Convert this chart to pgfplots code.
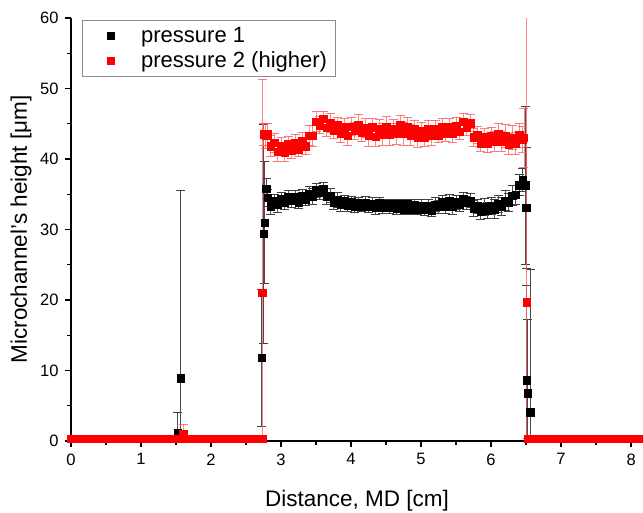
\documentclass[border=0pt]{standalone}
\usepackage{fontspec}
\setmainfont{Liberation Sans}
\usepackage{pgfplots}
\usepackage{pgfplotstable}
\pgfplotsset{compat=1.18}

% pressure 1: x [cm], height [um], error
\pgfplotstableread{
x y e
0.00 0.3 0
0.10 0.3 0
0.20 0.3 0
0.30 0.3 0
0.40 0.3 0
0.50 0.3 0
0.60 0.3 0
0.70 0.3 0
0.80 0.3 0
0.90 0.3 0
1.00 0.3 0
1.10 0.3 0
1.20 0.3 0
1.30 0.3 0
1.40 0.3 0
1.52 1.2 2.8
1.57 8.9 26.6
1.70 0.3 0
1.80 0.3 0
1.90 0.3 0
2.00 0.3 0
2.10 0.3 0
2.20 0.3 0
2.30 0.3 0
2.40 0.3 0
2.50 0.3 0
2.60 0.3 0
2.70 0.3 0
2.72 11.8 9.7
2.75 29.4 15.5
2.77 31.0 8.6
2.79 35.8 1.4
2.81 34.5 1.2
2.85 33.3 1.1
2.90 34.0 1.0
2.95 33.5 1.1
3.00 34.3 1.0
3.05 33.8 0.9
3.10 34.6 1.0
3.15 34.1 0.9
3.20 34.6 1.0
3.25 33.9 0.9
3.30 34.7 1.0
3.35 34.3 0.9
3.40 35.1 1.0
3.45 34.7 1.1
3.50 35.6 1.0
3.55 35.2 0.9
3.60 35.7 1.0
3.65 34.7 1.1
3.70 34.8 1.0
3.75 33.8 0.9
3.80 34.2 1.0
3.85 33.5 0.9
3.90 34.1 0.8
3.95 33.4 0.9
4.00 33.9 0.8
4.05 33.3 0.9
4.10 33.8 0.8
4.15 33.3 0.8
4.20 33.8 0.9
4.25 33.2 0.8
4.30 33.7 0.8
4.35 33.1 0.9
4.40 33.8 0.8
4.45 33.1 0.8
4.50 33.6 0.7
4.55 33.1 0.8
4.60 33.6 0.7
4.65 33.0 0.8
4.70 33.6 0.7
4.75 32.9 0.8
4.80 33.6 0.7
4.85 32.9 0.8
4.90 33.5 0.7
4.95 32.9 0.8
5.00 33.4 0.8
5.05 32.9 0.9
5.10 33.4 0.8
5.15 32.7 0.9
5.20 33.5 1.0
5.25 33.2 0.9
5.30 33.9 1.0
5.35 33.2 0.9
5.40 34.0 1.0
5.45 33.3 1.1
5.50 33.9 1.0
5.55 33.5 0.9
5.60 34.3 1.0
5.65 33.8 0.9
5.70 34.1 1.0
5.75 33.0 1.1
5.80 33.3 1.0
5.85 32.6 1.1
5.90 33.2 1.2
5.95 32.7 1.1
6.00 33.4 1.2
6.05 32.9 1.3
6.10 33.6 1.2
6.15 33.3 1.3
6.20 34.1 1.4
6.25 33.8 1.3
6.30 34.8 1.4
6.35 34.9 1.3
6.40 36.3 1.5
6.45 37.0 1.6
6.49 36.3 11.2
6.50 33.1 8.6
6.51 8.6 13.5
6.52 6.8 10.4
6.56 4.1 20.3
6.60 0.3 0
6.70 0.3 0
6.80 0.3 0
6.90 0.3 0
7.00 0.3 0
7.10 0.3 0
7.20 0.3 0
7.30 0.3 0
7.40 0.3 0
7.50 0.3 0
7.60 0.3 0
7.70 0.3 0
7.80 0.3 0
7.90 0.3 0
8.00 0.3 0
8.10 0.3 0
}\pone

% pressure 2 (higher)
\pgfplotstableread{
x y e
0.00 0.3 0
0.05 0.3 0
0.10 0.3 0
0.15 0.3 0
0.20 0.3 0
0.25 0.3 0
0.30 0.3 0
0.35 0.3 0
0.40 0.3 0
0.45 0.3 0
0.50 0.3 0
0.55 0.3 0
0.60 0.3 0
0.65 0.3 0
0.70 0.3 0
0.75 0.3 0
0.80 0.3 0
0.85 0.3 0
0.90 0.3 0
0.95 0.3 0
1.00 0.3 0
1.05 0.3 0
1.10 0.3 0
1.15 0.3 0
1.20 0.3 0
1.25 0.3 0
1.30 0.3 0
1.35 0.3 0
1.40 0.3 0
1.45 0.3 0
1.50 0.3 0
1.55 0.3 0
1.60 1.0 1.4
1.65 0.3 0
1.70 0.3 0
1.75 0.3 0
1.80 0.3 0
1.85 0.3 0
1.90 0.3 0
1.95 0.3 0
2.00 0.3 0
2.05 0.3 0
2.10 0.3 0
2.15 0.3 0
2.20 0.3 0
2.25 0.3 0
2.30 0.3 0
2.35 0.3 0
2.40 0.3 0
2.45 0.3 0
2.50 0.3 0
2.55 0.3 0
2.60 0.3 0
2.65 0.3 0
2.70 0.3 0
2.74 0.3 0
2.73 21.0 30.3
2.75 43.5 1.5
2.78 43.3 1.8
2.80 43.5 1.6
2.85 41.8 1.5
2.90 42.3 1.4
2.95 41.0 1.3
3.00 41.8 1.2
3.05 40.9 1.2
3.10 42.1 1.1
3.15 41.2 1.1
3.20 42.3 1.2
3.25 41.4 1.1
3.30 42.5 1.3
3.35 41.8 1.2
3.40 43.3 1.4
3.45 43.3 1.5
3.50 45.3 1.4
3.55 44.8 1.2
3.60 45.7 1.1
3.65 44.4 1.2
3.70 45.1 1.3
3.75 44.1 1.2
3.80 44.8 1.1
3.85 43.6 1.3
3.90 44.5 1.2
3.95 43.3 1.4
4.00 44.6 1.3
4.05 44.0 1.2
4.10 44.9 1.4
4.15 43.7 1.2
4.20 44.4 1.3
4.25 43.3 1.5
4.30 44.5 1.2
4.35 43.2 1.4
4.40 44.3 1.3
4.45 43.5 1.5
4.50 44.6 1.4
4.55 43.5 1.6
4.60 44.3 1.3
4.65 43.6 1.5
4.70 44.8 1.4
4.75 43.6 1.6
4.80 44.5 1.4
4.85 43.4 1.5
4.90 44.2 1.3
4.95 43.1 1.4
5.00 44.0 1.2
5.05 43.1 1.3
5.10 44.3 1.2
5.15 43.4 1.4
5.20 44.3 1.2
5.25 43.4 1.1
5.30 44.5 1.2
5.35 43.6 1.1
5.40 44.5 1.2
5.45 43.6 1.3
5.50 44.7 1.2
5.55 43.9 1.1
5.60 45.3 1.2
5.65 44.5 1.1
5.70 45.1 1.2
5.75 43.1 1.3
5.80 43.4 1.2
5.85 42.2 1.1
5.90 43.1 1.2
5.95 42.2 1.3
6.00 43.3 1.2
6.05 42.5 1.4
6.10 43.6 1.5
6.15 42.5 1.4
6.20 43.3 1.6
6.25 42.1 1.5
6.30 43.0 1.7
6.35 42.2 1.6
6.40 43.4 1.7
6.45 42.8 1.8
6.47 43.0 4.2
6.51 19.7 45.0
6.52 0.3 0
6.56 0.3 0
6.61 0.3 0
6.66 0.3 0
6.71 0.3 0
6.76 0.3 0
6.81 0.3 0
6.86 0.3 0
6.91 0.3 0
6.96 0.3 0
7.01 0.3 0
7.06 0.3 0
7.11 0.3 0
7.16 0.3 0
7.21 0.3 0
7.26 0.3 0
7.31 0.3 0
7.36 0.3 0
7.41 0.3 0
7.46 0.3 0
7.51 0.3 0
7.56 0.3 0
7.61 0.3 0
7.66 0.3 0
7.71 0.3 0
7.76 0.3 0
7.81 0.3 0
7.86 0.3 0
7.91 0.3 0
7.96 0.3 0
8.01 0.3 0
8.06 0.3 0
8.11 0.3 0
8.15 0.3 0
}\ptwo

\begin{document}
\begin{tikzpicture}
\useasboundingbox (-71pt,-71pt) rectangle (572pt,441pt);
\begin{axis}[
  at={(0,0)}, anchor=south west,
  scale only axis,
  width=572pt, height=423pt,
  xmin=0, xmax=8.17,
  ymin=0, ymax=60,
  axis x line*=bottom,
  axis y line*=left,
  axis line style={line width=1.3pt, -},
  every tick/.style={black, line width=1.3pt},
  tick align=outside,
  major tick length=6pt,
  minor tick length=4pt,
  xtick={0,1,...,8},
  ytick={0,10,...,60},
  minor x tick num=1,
  minor y tick num=1,
  tick label style={font=\fontsize{16.5}{19}\selectfont},
  /pgf/number format/assume math mode=true,
  xticklabel style={yshift=-3pt},
  yticklabel style={xshift=-3pt},
  xlabel={Distance, MD [cm]},
  ylabel={Microchannel's height [μm]},
  every axis x label/.style={at={(axis description cs:0.5,-0.156)}, anchor=base,
    font=\fontsize{22.5}{26}\selectfont},
  every axis y label/.style={at={(axis description cs:-0.077,0.5)}, rotate=90, anchor=base,
    font=\fontsize{22.5}{26}\selectfont},
  legend cell align=left,
  legend image code/.code={\path (0pt,0pt) (50pt,0pt); \draw[#1] plot coordinates {(22pt,0pt)};},
  legend style={at={(axis description cs:0.0192,0.9953)}, anchor=north west,
    draw=black!45, line width=0.8pt, font=\fontsize{22}{26}\selectfont,
    inner xsep=6pt, inner ysep=5pt, row sep=4pt},
]
\addplot[only marks, mark=square*, mark size=3.7pt, black,
  error bars/.cd, y dir=both, y explicit,
  error bar style={line width=0.9pt, black!70},
  error mark options={rotate=90, mark size=4.5pt, line width=0.8pt, black!75}]
  table[x=x, y=y, y error=e] {\pone};
\addlegendentry{pressure 1}
\addplot[only marks, mark=square*, mark size=3.7pt, red,
  error bars/.cd, y dir=both, y explicit,
  error bar style={line width=0.9pt, red!60, opacity=0.8},
  error mark options={rotate=90, mark size=4.5pt, line width=0.8pt, red!65}]
  table[x=x, y=y, y error=e] {\ptwo};
\addlegendentry{pressure 2 (higher)}
\end{axis}
\end{tikzpicture}
\end{document}
